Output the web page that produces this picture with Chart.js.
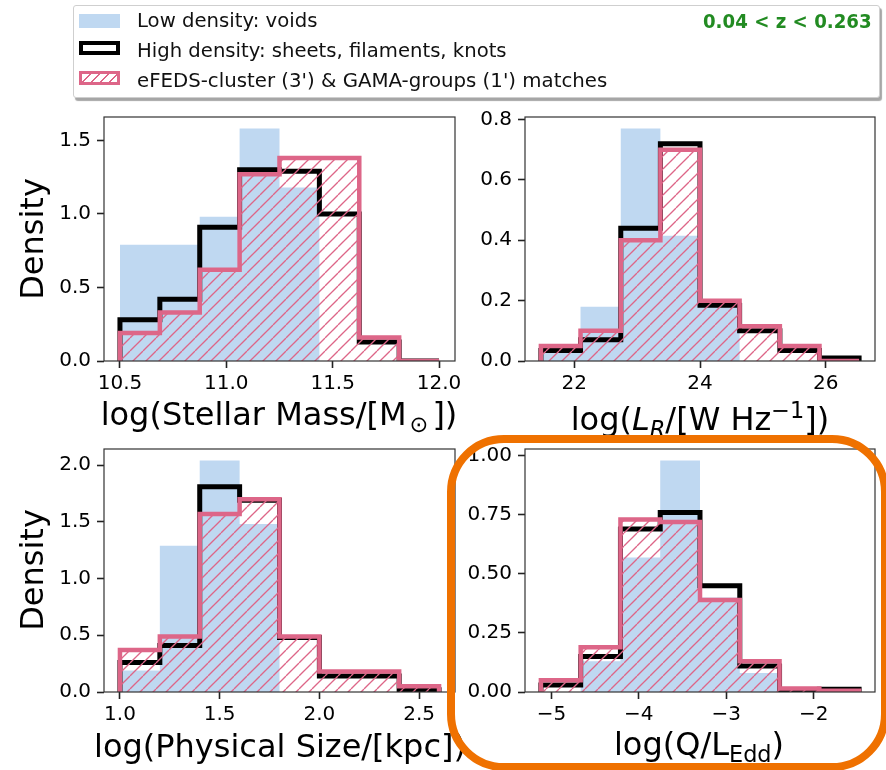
<!DOCTYPE html>
<html>
<head>
<meta charset="utf-8">
<script src="https://cdn.jsdelivr.net/npm/chart.js@4.4.1/dist/chart.umd.min.js"></script>
<style>
  body { margin: 0; background: #fff; width: 886px; height: 770px; overflow: hidden; position: relative; font-family: "DejaVu Sans", sans-serif; }
  canvas { position: absolute; left: 0; top: 0; }
  .xl { position: absolute; white-space: nowrap; font-size: 32px; line-height: 32px; color: #000; transform: translate(-50%, -50%); }
  .yl { position: absolute; white-space: nowrap; font-size: 32px; line-height: 32px; color: #000; transform: translate(-50%, -50%) rotate(-90deg); }
  .xl sub, .xl sup { font-size: 0.7em; line-height: 0; }
  #legend { position: absolute; left: 73px; top: 5px; width: 805px; height: 91px; border: 1px solid #cfcfcf; border-radius: 3px; background: #fff; box-shadow: 2px 3px 1px rgba(0,0,0,0.35); }
  .patch { position: absolute; left: 79px; width: 41px; height: 14px; box-sizing: border-box; }
  .ltxt { position: absolute; left: 137px; height: 24px; line-height: 24px; font-size: 20px; white-space: nowrap; color: #111; transform-origin: left center; }
  #zlabel { position: absolute; right: 7px; top: 3px; line-height: 24px; font-size: 20px; font-weight: bold; color: #228b22; white-space: nowrap; transform-origin: right center; }
  #focus { position: absolute; left: 447px; top: 435px; width: 442px; height: 336px; box-sizing: border-box; border: 8px solid #ef7100; border-radius: 57px; }
</style>
</head>
<body>
<canvas id="massChart" width="886" height="770"></canvas>
<canvas id="lumChart" width="886" height="770"></canvas>
<canvas id="sizeChart" width="886" height="770"></canvas>
<canvas id="eddChart" width="886" height="770"></canvas>

<div class="yl" style="left:32px;top:239px">Density</div>
<div class="yl" style="left:32px;top:570px">Density</div>
<div class="xl" style="left:279px;top:414px">log(Stellar Mass/[M<sub style="margin:0 4px 0 3px">⊙</sub>])</div>
<div class="xl" style="left:700px;top:419px">log(<i>L</i><sub><i>R</i></sub>/[W Hz<sup>−1</sup>])</div>
<div class="xl" style="left:280px;top:746px">log(Physical Size/[kpc])</div>
<div class="xl" style="left:699px;top:744px">log(Q/L<sub>Edd</sub>)</div>

<div id="legend"><div id="zlabel" data-w="169">0.04 &lt; z &lt; 0.263</div></div>
<div class="patch" style="top:14px;background:#bfd8f1"></div>
<div class="patch" style="top:41px;border:4px solid #000;background:#fff"></div>
<div class="patch" style="top:71px;border:3px solid #dd6688;background:repeating-linear-gradient(135deg,#fff 0 5px,#dd6688 5px 6.5px)"></div>
<div class="ltxt" style="top:8px" data-w="180">Low density: voids</div>
<div class="ltxt" style="top:38px" data-w="370">High density: sheets, filaments, knots</div>
<div class="ltxt" style="top:68px" data-w="470">eFEDS-cluster (3') &amp; GAMA-groups (1') matches</div>

<div id="focus"></div>

<script>
// bin edges and densities
const massEdges = [10.5, 10.6875, 10.875, 11.0625, 11.25, 11.4375, 11.625, 11.8125, 12.0];
const massVoids = [0.79, 0.79, 0.98, 1.58, 1.18, 0, 0, 0];
const massHigh  = [0.28, 0.42, 0.91, 1.30, 1.29, 1.00, 0.13, 0];
const massMatch = [0.19, 0.33, 0.62, 1.27, 1.38, 1.38, 0.16, 0];
const massXTicks = [10.5, 11.0, 11.5, 12.0];
const massYTicks = [0, 0.5, 1.0, 1.5];

const lumEdges = [21.47, 22.10, 22.74, 23.37, 24.00, 24.63, 25.27, 25.90, 26.53];
const lumVoids = [0.03, 0.18, 0.77, 0.415, 0.18, 0, 0, 0];
const lumHigh  = [0.035, 0.07, 0.44, 0.72, 0.185, 0.10, 0.035, 0.01];
const lumMatch = [0.05, 0.10, 0.40, 0.70, 0.20, 0.115, 0.05, 0];
const lumXTicks = [22, 24, 26];
const lumYTicks = [0, 0.2, 0.4, 0.6, 0.8];

const sizeEdges = [1.0, 1.2, 1.4, 1.6, 1.8, 2.0, 2.2, 2.4, 2.6];
const sizeVoids = [0.19, 1.29, 2.04, 1.48, 0, 0, 0, 0];
const sizeHigh  = [0.26, 0.41, 1.81, 1.69, 0.48, 0.14, 0.14, 0.02];
const sizeMatch = [0.37, 0.49, 1.57, 1.70, 0.49, 0.18, 0.18, 0.05];
const sizeXTicks = [1.0, 1.5, 2.0, 2.5];
const sizeYTicks = [0, 0.5, 1.0, 1.5, 2.0];

const eddEdges = [-5.12, -4.665, -4.21, -3.755, -3.30, -2.845, -2.39, -1.935, -1.48];
const eddVoids = [0, 0.13, 0.57, 0.98, 0.40, 0.08, 0, 0];
const eddHigh  = [0.03, 0.15, 0.69, 0.76, 0.45, 0.11, 0.01, 0.012];
const eddMatch = [0.05, 0.19, 0.73, 0.72, 0.39, 0.13, 0.015, 0.005];
const eddXTicks = [-5, -4, -3, -2];
const eddYTicks = [0, 0.25, 0.5, 0.75, 1.0];

const BLUE = '#bfd8f1';
const PINK = '#dd6688';

Chart.defaults.font.family = '"DejaVu Sans", sans-serif';

// legend text in the figure is a narrower face; stretch ours to the same widths
document.querySelectorAll('[data-w]').forEach(el => {
  el.style.transform = `scaleX(${el.dataset.w / el.offsetWidth})`;
});

function makeHatch() {
  const s = 13;
  const c = document.createElement('canvas');
  c.width = s; c.height = s;
  const g = c.getContext('2d');
  g.strokeStyle = PINK;
  g.lineWidth = 1.3;
  for (const k of [-s, 0, s]) {
    g.beginPath(); g.moveTo(k, s); g.lineTo(k + s, 0); g.stroke();
  }
  return g.createPattern(c, 'repeat');
}
const hatch = makeHatch();

// step outline of a histogram: up at the first edge, down at the last
function histPoints(edges, vals) {
  const last = edges.length - 1;
  const pts = [{ x: edges[0], y: 0 }];
  vals.forEach((v, i) => pts.push({ x: edges[i], y: v }));
  pts.push({ x: edges[last], y: vals[vals.length - 1] });
  pts.push({ x: edges[last], y: 0 });
  return pts;
}

// full box around the axes, like matplotlib spines
const frame = {
  id: 'frame',
  afterDraw(chart) {
    const { ctx, chartArea: a } = chart;
    ctx.save();
    ctx.strokeStyle = '#333';
    ctx.lineWidth = 1.2;
    ctx.strokeRect(a.left, a.top, a.right - a.left, a.bottom - a.top);
    ctx.restore();
  }
};

function axisOpts(range, tickVals, fmt, side) {
  return {
    type: 'linear',
    min: range[0],
    max: range[1],
    afterFit: s => { if (side === 'x') s.height = 40; else s.width = 60; },
    afterBuildTicks: s => { s.ticks = tickVals.map(v => ({ value: v })); },
    border: { display: false },
    grid: { display: true, drawOnChartArea: false, drawTicks: true, tickLength: 7, tickColor: '#222', tickWidth: 1.6 },
    ticks: {
      color: '#000',
      font: { size: 20 },
      padding: side === 'x' ? 4 : 6,
      autoSkip: false,
      maxRotation: 0,
      callback: v => fmt(v)
    }
  };
}

function makePanel(id, area, edges, voids, high, match, xRange, yRange, xTicks, yTicks, xFmt, yFmt) {
  new Chart(document.getElementById(id), {
    type: 'line',
    data: {
      datasets: [
        { label: 'matches', data: histPoints(edges, match), stepped: 'before', borderColor: PINK, borderWidth: 4.5,
          backgroundColor: hatch, fill: 'origin', order: 0, clip: 0 },
        { label: 'high', data: histPoints(edges, high), stepped: 'before', borderColor: '#000', borderWidth: 5,
          fill: false, order: 1, clip: 0 },
        { label: 'voids', data: histPoints(edges, voids), stepped: 'before', borderColor: 'rgba(0,0,0,0)', borderWidth: 0,
          backgroundColor: BLUE, fill: 'origin', order: 2, clip: 0 }
      ]
    },
    options: {
      responsive: false,
      animation: false,
      layout: { padding: { left: area.l - 60, top: area.t, right: 886 - area.r, bottom: 770 - area.b - 40 } },
      elements: { point: { radius: 0 }, line: { borderJoinStyle: 'miter', borderCapStyle: 'butt', tension: 0 } },
      plugins: { legend: { display: false }, tooltip: { enabled: false } },
      scales: {
        x: axisOpts(xRange, xTicks, xFmt, 'x'),
        y: axisOpts(yRange, yTicks, yFmt, 'y')
      }
    },
    plugins: [frame]
  });
}

const fix = n => v => v.toFixed(n);
const minus = v => (v < 0 ? '\u2212' + Math.abs(v).toFixed(0) : v.toFixed(0));

makePanel('massChart', { l: 104, r: 455, t: 117, b: 361 }, massEdges, massVoids, massHigh, massMatch,
  [10.425, 12.075], [0, 1.659], massXTicks, massYTicks, fix(1), fix(1));
makePanel('lumChart', { l: 525, r: 875, t: 117, b: 361 }, lumEdges, lumVoids, lumHigh, lumMatch,
  [21.217, 26.783], [0, 0.8085], lumXTicks, lumYTicks, fix(0), fix(1));
makePanel('sizeChart', { l: 104, r: 455, t: 449, b: 692 }, sizeEdges, sizeVoids, sizeHigh, sizeMatch,
  [0.92, 2.68], [0, 2.142], sizeXTicks, sizeYTicks, fix(1), fix(1));
makePanel('eddChart', { l: 525, r: 875, t: 449, b: 692 }, eddEdges, eddVoids, eddHigh, eddMatch,
  [-5.302, -1.298], [0, 1.029], eddXTicks, eddYTicks, minus, fix(2));
</script>
</body>
</html>
